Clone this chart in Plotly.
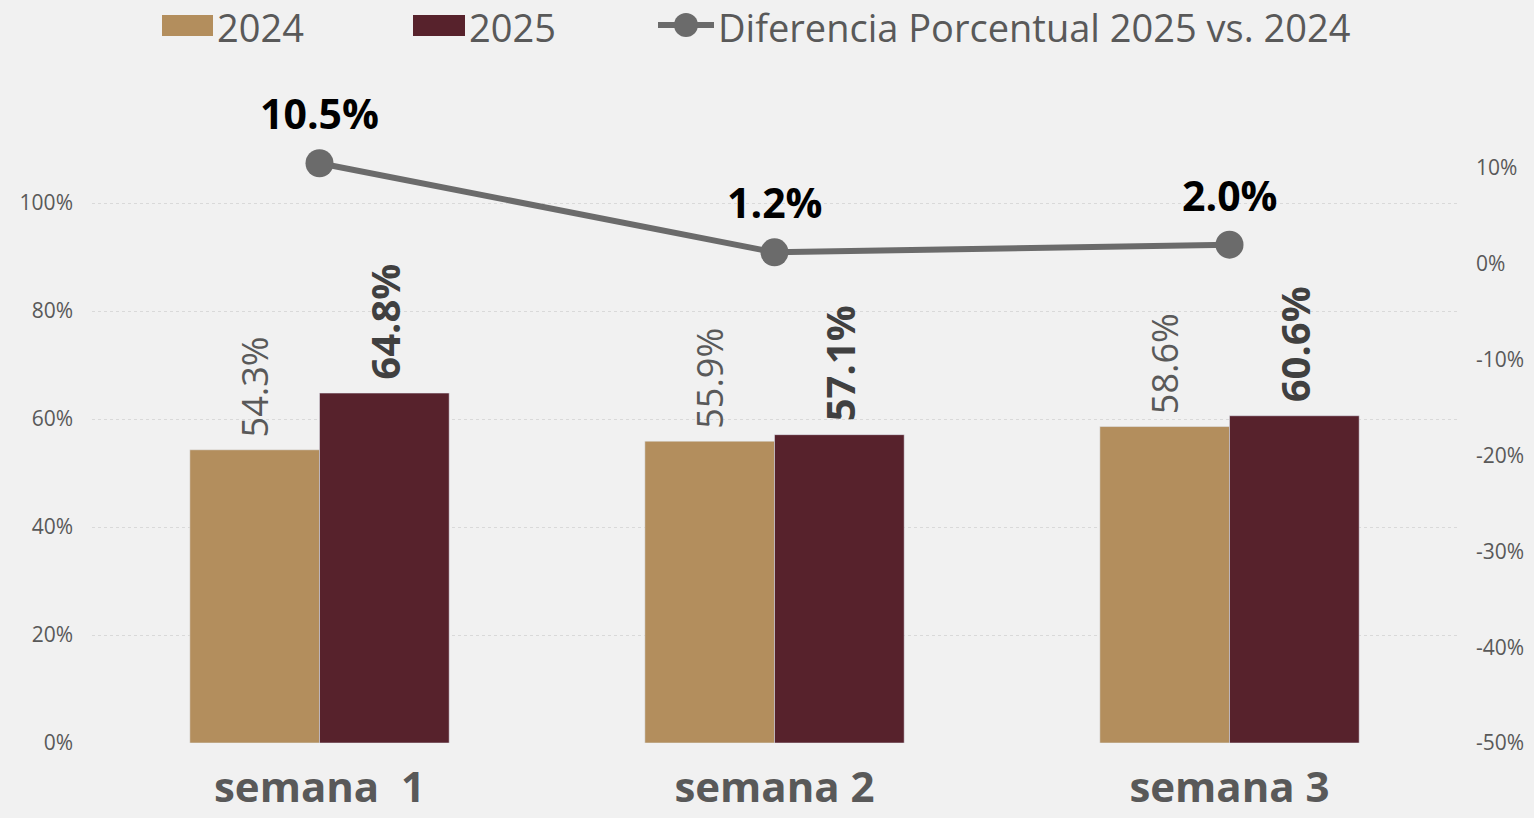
import plotly.graph_objects as go

categories = ["semana\u00a0 1", "semana 2", "semana 3"]
values_2024 = [0.543, 0.559, 0.586]
values_2025 = [0.648, 0.571, 0.606]
diff_pct = [10.5, 1.2, 2.0]
left_ticks = [0, 0.2, 0.4, 0.6, 0.8, 1.0]
right_ticks = [-50, -40, -30, -20, -10, 0, 10]

FONT = "Open Sans"
C24 = "#b38e5d"
C25 = "#57222c"
CLINE = "#6b6b6b"

W, H = 1534, 818
L, R, T, B = 92, 77, 60, 75
PW, PH = W - L - R, H - T - B


def px(x):
    return (x - L) / PW


def py(y):
    return (H - B - y) / PH


fig = go.Figure()
fig.add_trace(go.Bar(
    x=categories, y=values_2024, name="2024", marker_color=C24,
    text=[f"\u00a0{v*100:.1f}%" for v in values_2024], textposition="outside",
    textangle=-90, constraintext="none", cliponaxis=False,
    textfont=dict(family=FONT, size=36, color="#595959"), showlegend=False,
))
fig.add_trace(go.Bar(
    x=categories, y=values_2025, name="2025", marker_color=C25,
    text=[f"\u00a0<b>{v*100:.1f}%</b>" for v in values_2025], textposition="outside",
    textangle=-90, constraintext="none", cliponaxis=False,
    textfont=dict(family=FONT, size=40, color="#404040"), showlegend=False,
))
fig.add_trace(go.Scatter(
    x=categories, y=diff_pct, yaxis="y2", mode="lines+markers",
    line=dict(color=CLINE, width=6), marker=dict(size=28, color=CLINE),
    name="Diferencia Porcentual 2025 vs. 2024", showlegend=False, cliponaxis=False,
))

annotations = []
for c, v in zip(categories, diff_pct):
    annotations.append(dict(
        x=c, y=v, xref="x", yref="y2", text=f"<b>{v:.1f}%</b>", showarrow=False,
        yshift=50, font=dict(family=FONT, size=41, color="#000000"),
    ))

# custom legend
shapes = [
    dict(type="rect", xref="paper", yref="paper", x0=px(162), x1=px(213), y0=py(36), y1=py(15),
         fillcolor=C24, line=dict(width=0)),
    dict(type="rect", xref="paper", yref="paper", x0=px(413), x1=px(465), y0=py(36), y1=py(15),
         fillcolor=C25, line=dict(width=0)),
    dict(type="line", xref="paper", yref="paper", x0=px(658), x1=px(714), y0=py(25), y1=py(25),
         line=dict(color=CLINE, width=6)),
    dict(type="circle", xref="paper", yref="paper", x0=px(674), x1=px(698), y0=py(37), y1=py(13),
         fillcolor=CLINE, line=dict(width=0)),
]
for x0, txt in [(215, "2024"), (467, "2025"), (716, "Diferencia Porcentual 2025 vs. 2024")]:
    annotations.append(dict(
        x=px(x0), y=py(27), xref="paper", yref="paper", text=txt, showarrow=False,
        xanchor="left", yanchor="middle", font=dict(family=FONT, size=38, color="#595959"),
    ))

fig.update_layout(
    width=W, height=H,
    margin=dict(l=L, r=R, t=T, b=B, autoexpand=False),
    paper_bgcolor="#f1f1f1", plot_bgcolor="#f1f1f1",
    barmode="group", bargap=0.43, bargroupgap=0,
    showlegend=False,
    shapes=shapes, annotations=annotations,
    xaxis=dict(
        showgrid=False, zeroline=False, showline=False, ticks="",
        tickfont=dict(family=FONT, size=42, color="#595959", weight="bold"),
        ticklabelstandoff=16,
    ),
    yaxis=dict(
        range=[0, PH / 540], tickvals=left_ticks, tickformat=".0%",
        showgrid=True, gridcolor="#d9d9d9", griddash="dot", gridwidth=1,
        zeroline=False, showline=False, ticks="",
        tickfont=dict(family=FONT, size=21, color="#595959"),
        ticklabelstandoff=18,
    ),
    yaxis2=dict(
        overlaying="y", side="right",
        range=[-50, -50 + PH / 9.583], tickvals=right_ticks,
        ticktext=[f"{v}%" for v in right_ticks],
        showgrid=False, zeroline=False, showline=False, ticks="",
        tickfont=dict(family=FONT, size=21, color="#595959"),
        ticklabelstandoff=18,
    ),
)

fig.write_html(
    "out.html",
    config={"displayModeBar": False},
    post_script="document.body.style.margin='0';document.body.style.overflow='hidden';",
)
